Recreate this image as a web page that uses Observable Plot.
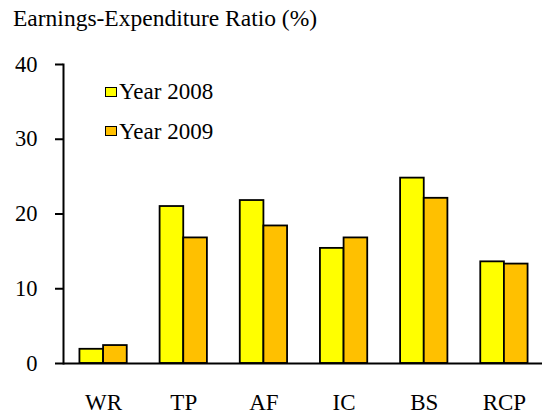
<!DOCTYPE html>
<html><head><meta charset="utf-8">
<script src="https://cdn.jsdelivr.net/npm/d3@7"></script>
<script src="https://cdn.jsdelivr.net/npm/@observablehq/plot@0.6"></script>
<style>
body{margin:0;background:#fff;}
#wrap{position:relative;width:542px;height:414px;font-family:'Liberation Serif',serif;color:#000;overflow:hidden;}
#title{position:absolute;left:13px;top:6px;font-size:23.5px;line-height:24px;white-space:nowrap;font-family:'Liberation Serif',serif;}
#legend{position:absolute;left:105px;top:72px;font-size:23px;line-height:23px;font-family:'Liberation Serif',serif;}
.item{display:flex;align-items:center;height:39.5px;white-space:nowrap;}
.sw{width:12px;height:10px;box-sizing:border-box;border:1.5px solid #000;margin-right:2px;}
#chart{position:absolute;left:0;top:0;}
</style></head>
<body>
<div id="wrap">
  <div id="chart"></div>
  <div id="title"></div>
  <div id="legend"></div>
</div>
<script>
const title = "Earnings-Expenditure Ratio (%)";
const categories = ["WR","TP","AF","IC","BS","RCP"];
const years = ["Year 2008","Year 2009"];
const colors = ["#FFFF00","#FFC000"];
const values2008 = [1.9, 21.0, 21.8, 15.4, 24.8, 13.6];
const values2009 = [2.4, 16.8, 18.4, 16.8, 22.1, 13.3];
const yTicks = [0,10,20,30,40];

const W = 542, H = 414, mL = 63, mR = -2, mT = 64, mB = 51;
const pInner = 0.41, pOuter = 0.205;
const FONT = "'Liberation Serif', serif";

const d2008 = categories.map((c,i)=>({cat:c, v:values2008[i]}));
const d2009 = categories.map((c,i)=>({cat:c, v:values2009[i]}));

const xs = d3.scaleBand().domain(categories).range([mL, W - mR]).paddingInner(pInner).paddingOuter(pOuter);
const half = xs.bandwidth() / 2;

document.getElementById("title").textContent = title;
const leg = document.getElementById("legend");
years.forEach((y,i)=>{
  const it = document.createElement("div"); it.className="item";
  const sw = document.createElement("div"); sw.className="sw"; sw.style.background = colors[i];
  const t = document.createElement("span"); t.textContent = y;
  it.appendChild(sw); it.appendChild(t); leg.appendChild(it);
});

const chart = Plot.plot({
  width: W, height: H,
  marginLeft: mL, marginRight: mR, marginTop: mT, marginBottom: mB,
  style: {fontFamily: FONT, fontSize: "22px", color: "#000", background: "transparent", overflow: "visible"},
  x: {domain: categories, paddingInner: pInner, paddingOuter: pOuter, round: false, label: null},
  y: {domain: [0, 40], label: null},
  marks: [
    Plot.barY(d2008, {x: "cat", y: "v", fill: colors[0], stroke: "#000", strokeWidth: 1.8, insetRight: half}),
    Plot.barY(d2009, {x: "cat", y: "v", fill: colors[1], stroke: "#000", strokeWidth: 1.8, insetLeft: half}),
    Plot.ruleY([0], {stroke: "#000", strokeWidth: 2}),
    Plot.frame({anchor: "left", stroke: "#000", strokeWidth: 2}),
    Plot.axisY(yTicks, {tickSize: 8, tickPadding: 18, fontSize: 22.5, fontFamily: FONT, strokeWidth: 2, label: null}),
    Plot.axisX({tickSize: 0, tickPadding: 30, fontSize: 23, fontFamily: FONT, label: null})
  ]
});
document.getElementById("chart").appendChild(chart);
</script>
</body></html>
